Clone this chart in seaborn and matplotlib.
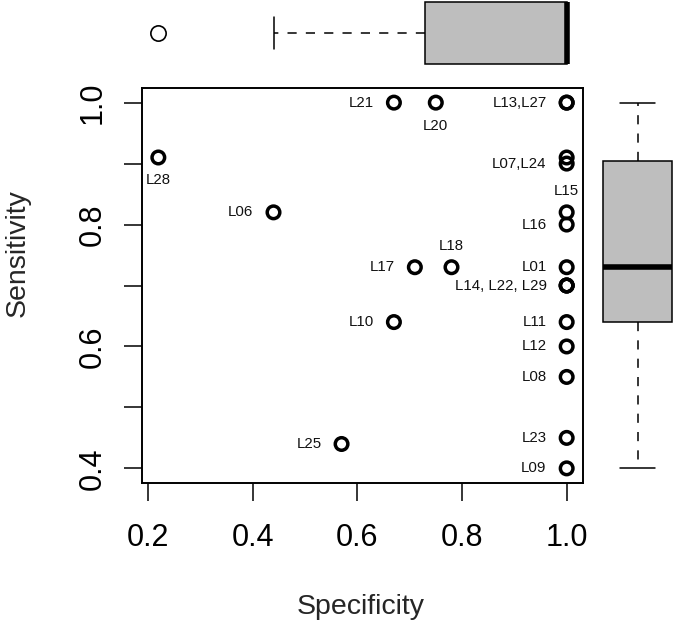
import matplotlib
matplotlib.use("Agg")
import matplotlib.pyplot as plt
import seaborn as sns
import pandas as pd
from matplotlib.ticker import MultipleLocator

# one entry per study
study = ["L01", "L06", "L07", "L08", "L09", "L10", "L11", "L12", "L13", "L14",
         "L15", "L16", "L17", "L18", "L20", "L21", "L22", "L23", "L24", "L25",
         "L27", "L28", "L29"]
specificity = [1.00, 0.44, 1.00, 1.00, 1.00, 0.67, 1.00, 1.00, 1.00, 1.00,
               1.00, 1.00, 0.71, 0.78, 0.75, 0.67, 1.00, 1.00, 1.00, 0.57,
               1.00, 0.22, 1.00]
sensitivity = [0.73, 0.82, 0.91, 0.55, 0.40, 0.64, 0.64, 0.60, 1.00, 0.70,
               0.82, 0.80, 0.73, 0.73, 1.00, 1.00, 0.70, 0.45, 0.90, 0.44,
               1.00, 0.91, 0.70]

# text written beside the points and the study whose point it sits on
point_text = ["L21", "L20", "L13,L27", "L28", "L07,L24", "L06", "L15", "L16",
              "L17", "L18", "L01", "L14, L22, L29", "L10", "L11", "L12", "L08",
              "L23", "L25", "L09"]
anchor = ["L21", "L20", "L13", "L28", "L24", "L06", "L15", "L16",
          "L17", "L18", "L01", "L14", "L10", "L11", "L12", "L08",
          "L23", "L25", "L09"]
below = {"L20", "L28"}
above = {"L18", "L15"}

df = pd.DataFrame({"study": study, "spec": specificity, "sens": sensitivity})

sns.set_style("ticks")
plt.rcParams["font.family"] = ["Liberation Sans", "DejaVu Sans"]

W, H = 675, 625
fig = plt.figure(figsize=(6.75, 6.25), dpi=100)
ax = fig.add_axes([142 / W, 1 - 483 / H, 441 / W, 395 / H])
ax_top = fig.add_axes([142 / W, 1 - 66 / H, 441 / W, 66 / H])
ax_right = fig.add_axes([600 / W, 1 - 483 / H, 75 / W, 395 / H])

xlim = (0.1888, 1.0312)
ylim = (0.376, 1.024)

sns.scatterplot(data=df, x="spec", y="sens", ax=ax, s=82, marker="o",
                facecolors="none", edgecolor="black", linewidth=2.5,
                legend=False, zorder=3)

pos = df.set_index("study")
for txt, key in zip(point_text, anchor):
    px, py = pos.loc[key, "spec"], pos.loc[key, "sens"]
    if key in below:
        off, ha = (0, -16.5), "center"
    elif key in above:
        off, ha = (0, 15.5), "center"
    else:
        off, ha = (-14.5, 0), "right"
    ax.annotate(txt, (px, py), xytext=off, textcoords="offset points",
                ha=ha, va="center", fontsize=10.8, color="#111111")

ax.set_xlim(xlim)
ax.set_ylim(ylim)
ax.set_xlabel("")
ax.set_ylabel("")
ax.yaxis.set_minor_locator(MultipleLocator(0.1))
ax.set_xticks([0.2, 0.4, 0.6, 0.8, 1.0])
ax.set_yticks([0.4, 0.6, 0.8, 1.0])
ax.set_xticklabels(["0.2", "0.4", "0.6", "0.8", "1.0"])
ax.set_yticklabels(["0.4", "0.6", "0.8", "1.0"])
for s in ax.spines.values():
    s.set_visible(True)
    s.set_color("black")
    s.set_linewidth(1.4)
ax.tick_params(axis="both", which="both", direction="out", length=13,
               width=1.1, color="black", labelcolor="black", labelsize=22)
ax.tick_params(axis="x", pad=16)
ax.tick_params(axis="y", pad=12)
for lab in ax.get_yticklabels():
    lab.set_rotation(90)
    lab.set_va("center")

box_kw = dict(color="#bebebe", saturation=1, linecolor="black", linewidth=1.1,
              whiskerprops={"linestyle": (0, (6, 6))},
              medianprops={"linewidth": 4, "solid_capstyle": "butt"},
              flierprops={"marker": "o", "markersize": 11,
                          "markerfacecolor": "none",
                          "markeredgecolor": "black",
                          "markeredgewidth": 1.2})

sns.boxplot(x=df["spec"], ax=ax_top, orient="h", width=0.94, **box_kw)
ax_top.set_xlim(xlim)
ax_top.set_ylim(0.5, -0.5)
ax_top.axis("off")

sns.boxplot(y=df["sens"], ax=ax_right, orient="v", width=0.92, **box_kw)
ax_right.set_ylim(ylim)
ax_right.set_xlim(-0.5, 0.5)
ax_right.axis("off")

fig.text(361 / W, 1 - 614 / H, "Specificity", ha="center", va="baseline",
         fontsize=20.5)
fig.text(18 / W, 1 - 253 / H, "Sensitivity", ha="center", va="center",
         rotation=90, fontsize=20.5)

fig.savefig("out.png", dpi=100)
plt.close(fig)
